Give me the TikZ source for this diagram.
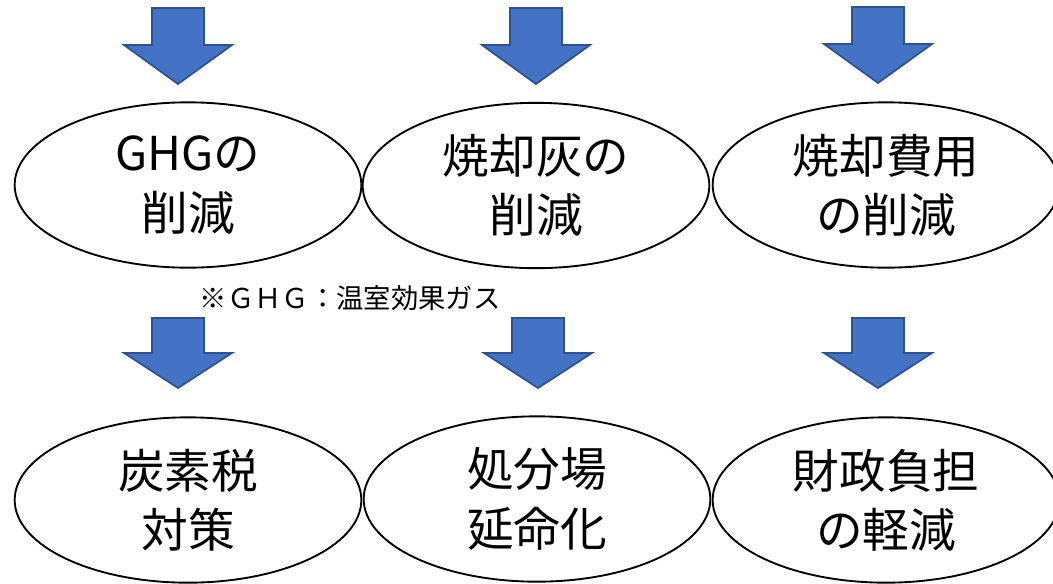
\documentclass[tikz,border=0pt]{standalone}
\usepackage{fontspec}
\setmainfont{Noto Sans CJK JP}
\usetikzlibrary{shapes.geometric}
\definecolor{arrowblue}{HTML}{4472C4}
\definecolor{arrowedge}{HTML}{2F528F}
\tikzset{
  goal/.style={draw=black, line width=1.4pt, ellipse, inner sep=0pt,
    minimum width=260pt, minimum height=124pt,
    font=\fontsize{35}{44.5}\selectfont, align=center},
  blockarrow/.style={fill=arrowblue, draw=arrowedge, line width=1.3pt, line join=miter},
  downarrowtop/.pic={\path[blockarrow] (-26,0) -- (26,0) -- (26,37) -- (54,37) -- (0,76) -- (-54,37) -- (-26,37) -- cycle;},
  downarrowbot/.pic={\path[blockarrow] (-26,0) -- (26,0) -- (26,35) -- (54,35) -- (0,70) -- (-54,35) -- (-26,35) -- cycle;},
  note/.style={font=\fontsize{20.5}{24}\selectfont, inner sep=0pt}
}
\begin{document}
\begin{tikzpicture}[x=0.75pt,y=-0.75pt]
\useasboundingbox (0,0) rectangle (1053,583);
% top arrows
\pic (a1) at (178,8) {downarrowtop};
\pic (a2) at (536,8) {downarrowtop};
\pic (a3) at (878,7) {downarrowtop};
% top ellipses
\node[goal] (e1) at (188,185) {GHGの\\削減};
\node[goal] (e2) at (536,185.5) {焼却灰の\\削減};
\node[goal] (e3) at (886,185) {焼却費用\\の削減};
% note
\node[note] (n) at (350,298) {※ＧＨＧ：温室効果ガス};
% bottom arrows
\pic (b1) at (178,318) {downarrowbot};
\pic (b2) at (538,318) {downarrowbot};
\pic (b3) at (878,318) {downarrowbot};
% bottom ellipses
\node[goal] (e4) at (188,500) {炭素税\\対策};
\node[goal] (e5) at (537,499) {処分場\\延命化};
\node[goal] (e6) at (886,500) {財政負担\\の軽減};
\end{tikzpicture}
\end{document}
